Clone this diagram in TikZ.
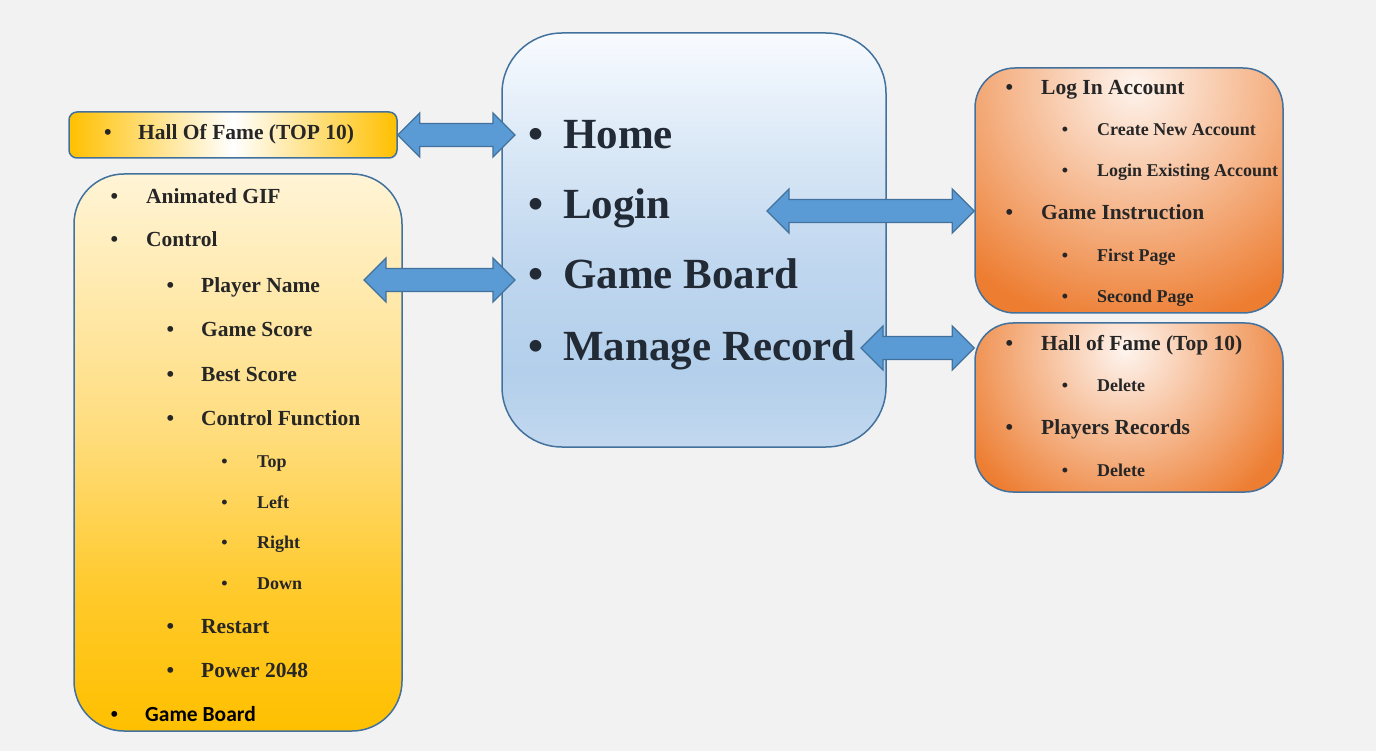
\documentclass[tikz,border=0pt]{standalone}
\usepackage{fontspec}
\setmainfont{Liberation Serif}
\newfontfamily\calfont{Carlito}
\usetikzlibrary{calc}
\definecolor{bg}{HTML}{F2F2F2}
\definecolor{edge}{HTML}{41719C}
\definecolor{ink}{HTML}{262626}
\definecolor{inkH}{HTML}{222A35}
\definecolor{arrfill}{HTML}{5B9BD5}
\definecolor{gold}{HTML}{FFC000}
\definecolor{peach}{HTML}{FEF4EE}
\definecolor{orng}{HTML}{ED7D31}
\definecolor{homeA}{HTML}{C2D8EF}
\definecolor{homeB}{HTML}{B3CFEB}
\definecolor{homeC}{HTML}{C0D7EF}
\definecolor{homeD}{HTML}{DDEAF7}
\definecolor{homeE}{HTML}{F8FBFF}
\definecolor{ctlA}{HTML}{FFC000}
\definecolor{ctlB}{HTML}{FFC929}
\definecolor{ctlC}{HTML}{FFDD7E}
\definecolor{ctlD}{HTML}{FFF4D6}
\pgfdeclareverticalshading{homeshade}{100bp}{color(0bp)=(homeA); color(25bp)=(homeA); color(34bp)=(homeB); color(47.5bp)=(homeC); color(62.5bp)=(homeD); color(75bp)=(homeE); color(100bp)=(homeE)}
\pgfdeclareverticalshading{ctlshade}{100bp}{color(0bp)=(ctlA); color(25bp)=(ctlA); color(37bp)=(ctlB); color(52bp)=(ctlC); color(75bp)=(ctlD); color(100bp)=(ctlD)}
\tikzset{
  box/.style={draw=edge, line width=1.5pt, inner sep=0pt},
  itH/.style={anchor=base west, inner sep=0pt, text=inkH, font=\fontsize{43}{50}\selectfont\bfseries},
  itA/.style={anchor=base west, inner sep=0pt, text=ink, font=\fontsize{21.5}{24}\selectfont\bfseries},
  itC/.style={anchor=base west, inner sep=0pt, text=ink, font=\fontsize{18}{20}\selectfont\bfseries},
  itS/.style={anchor=base west, inner sep=0pt, text=black, font=\calfont\fontsize{21.5}{24}\selectfont\bfseries},
  dblarr/.style={draw=edge, fill=arrfill, line width=1.3pt, line join=miter,
    to path={let \p1=(\tikztostart), \p2=(\tikztotarget) in
      (\x1,\y1) -- (\x1+22pt,\y1+22pt) -- (\x1+22pt,\y1+11.5pt) -- (\x2-22pt,\y1+11.5pt) -- (\x2-22pt,\y1+22pt)
      -- (\x2,\y1) -- (\x2-22pt,\y1-22pt) -- (\x2-22pt,\y1-11.5pt) -- (\x1+22pt,\y1-11.5pt) -- (\x1+22pt,\y1-22pt) -- cycle}}
}
\newcommand{\bl}[1][28pt]{\llap{{\rmfamily •}\hspace{#1}}}

\begin{document}
\begin{tikzpicture}[x=1pt, y=-1pt]
\useasboundingbox (0,0) rectangle (1376,751);
\fill[bg] (0,0) rectangle (1376,751);

\node[box, rounded corners=60pt, shade, shading=homeshade, minimum width=384pt, minimum height=414pt] (home) at (694,240) {};
\node[box, rounded corners=8pt, left color=gold, right color=gold, middle color=white, minimum width=328pt, minimum height=46pt] (hof) at (233,135) {};
\node[box, rounded corners=50pt, shade, shading=ctlshade, minimum width=328pt, minimum height=557pt] (ctl) at (238,452.5) {};
\node[box, rounded corners=40pt, fill=orng, minimum width=308pt, minimum height=245pt,
  path picture={\shade[inner color=peach, outer color=orng] ([xshift=6pt, yshift=-17pt]path picture bounding box.north) circle (245pt);}] (acct) at (1129,190.5) {};
\node[box, rounded corners=38pt, fill=orng, minimum width=308pt, minimum height=169pt,
  path picture={\shade[inner color=peach, outer color=orng] ([xshift=-4pt, yshift=-27pt]path picture bounding box.north) circle (185pt);}] (recs) at (1129,407.5) {};

\node[itH] (tHome) at (563,149) {\bl[19.5pt]Home};
\node[itH] (tLogin) at (563,219) {\bl[19.5pt]Login};
\node[itH] (tBoard) at (563,289) {\bl[19.5pt]Game Board};
\node[itH] (tManage) at (563,360) {\bl[19.5pt]Manage Record};

\node[itA] (tHof) at (138,140) {\bl[26.5pt]Hall Of Fame (TOP 10)};

\node[itA] (tGif) at (146,204) {\bl Animated GIF};
\node[itA] (tCtl) at (146,247) {\bl Control};
\node[itA] (tName) at (201,293) {\bl[27pt]Player Name};
\node[itA] (tScore) at (201,337) {\bl[27pt]Game Score};
\node[itA] (tBest) at (201,381) {\bl[27pt]Best Score};
\node[itA] (tFunc) at (201,425) {\bl[27pt]Control Function};
\node[itC] (tTop) at (257,467) {\bl[29.5pt]Top};
\node[itC] (tLeft) at (257,508) {\bl[29.5pt]Left};
\node[itC] (tRight) at (257,548) {\bl[29.5pt]Right};
\node[itC] (tDown) at (257,589) {\bl[29.5pt]Down};
\node[itA] (tRestart) at (201,633) {\bl[27pt]Restart};
\node[itA] (tPower) at (201,677) {\bl[27pt]Power 2048};
\node[itS] (tGame) at (145,721) {\bl[27pt]Game Board};

\node[itA] (tLog) at (1041,95) {\bl Log In Account};
\node[itC] (tNew) at (1097,136) {\bl[29pt]Create New Account};
\node[itC] (tExist) at (1097,177) {\bl[29pt]Login Existing Account};
\node[itA] (tInstr) at (1041,220) {\bl Game Instruction};
\node[itC] (tFirst) at (1097,262) {\bl[29pt]First Page};
\node[itC] (tSecond) at (1097,303) {\bl[29pt]Second Page};

\node[itA] (tFame) at (1041,350) {\bl Hall of Fame (Top 10)};
\node[itC] (tDel1) at (1097,391) {\bl[29pt]Delete};
\node[itA] (tPlayers) at (1041,434) {\bl Players Records};
\node[itC] (tDel2) at (1097,476) {\bl[29pt]Delete};

\coordinate (homeL1) at (515,134);
\coordinate (ctlR) at (364,280);
\coordinate (homeL2) at (515,280);
\coordinate (homeR1) at (767,211);
\coordinate (homeR2) at (861,348);
\draw[dblarr] (hof.east) to (homeL1);
\draw[dblarr] (ctlR) to (homeL2);
\draw[dblarr] (homeR1) to (acct.west |- homeR1);
\draw[dblarr] (homeR2) to (recs.west |- homeR2);
\end{tikzpicture}
\end{document}
